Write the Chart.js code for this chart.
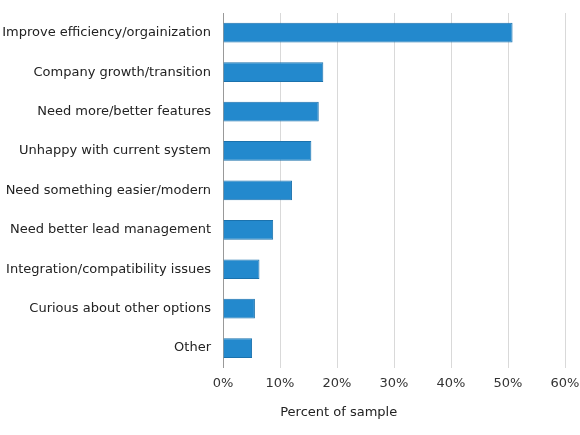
<!DOCTYPE html>
<html>
<head>
<meta charset="utf-8">
<script src="https://cdn.jsdelivr.net/npm/chart.js@4"></script>
<style>
  html, body { margin: 0; padding: 0; background: #fff; }
  #wrap { width: 580px; height: 435px; }
</style>
</head>
<body>
<div id="wrap"><canvas id="chart"></canvas></div>
<script>
const reasons = [
  'Improve efficiency/orgainization',
  'Company growth/transition',
  'Need more/better features',
  'Unhappy with current system',
  'Need something easier/modern',
  'Need better lead management',
  'Integration/compatibility issues',
  'Curious about other options',
  'Other'
];
const percents = [50.8, 17.6, 16.8, 15.5, 12.1, 8.8, 6.4, 5.6, 5.1];
const xTicks = [0, 10, 20, 30, 40, 50, 60];
const xTitle = 'Percent of sample';

Chart.defaults.font.family = '"DejaVu Sans", Verdana, sans-serif';
Chart.defaults.font.size = 13;
Chart.defaults.color = '#222';

// the axis title in the source sits left of the plot centre, so draw it ourselves
const offsetTitle = {
  id: 'offsetTitle',
  afterDraw(chart) {
    const s = chart.scales.x;
    const c = chart.ctx;
    c.save();
    c.font = '13px "DejaVu Sans", Verdana, sans-serif';
    c.fillStyle = '#222';
    c.textAlign = 'center';
    c.textBaseline = 'middle';
    c.fillText(xTitle, s.getPixelForValue(20.3), s.bottom - 8);
    c.restore();
  }
};

const ctx = document.getElementById('chart').getContext('2d');
new Chart(ctx, {
  type: 'bar',
  data: {
    labels: reasons,
    datasets: [{
      data: percents,
      backgroundColor: '#2389cd',
      borderColor: '#1b72ad',
      borderWidth: 1,
      borderSkipped: 'left',
      barPercentage: 0.5,
      categoryPercentage: 1
    }]
  },
  options: {
    indexAxis: 'y',
    responsive: true,
    maintainAspectRatio: false,
    animation: false,
    layout: { padding: { top: 13, right: 0, bottom: 14, left: 0 } },
    plugins: { legend: { display: false }, tooltip: { enabled: false } },
    scales: {
      x: {
        min: 0, max: 60,
        afterBuildTicks: s => { s.ticks = xTicks.map(v => ({ value: v })); },
        afterFit: s => { s.paddingRight = 15; s.paddingLeft = 0; },
        ticks: { callback: v => v + '%', padding: 8, color: '#333', maxRotation: 0 },
        grid: { color: '#d9d9d9', drawTicks: false, lineWidth: 1 },
        border: { display: false },
        // keeps the space for the title; the text is drawn by offsetTitle
        title: { display: true, text: xTitle, color: 'rgba(0,0,0,0)', padding: { top: 6, bottom: 0 } }
      },
      y: {
        afterFit: s => { s.width = 223; s.paddingTop = 0; s.paddingBottom = 0; },
        ticks: { padding: 12, color: '#222' },
        grid: { display: false, drawTicks: false },
        border: { display: true, color: '#999', width: 1 }
      }
    }
  },
  plugins: [offsetTitle]
});
</script>
</body>
</html>
